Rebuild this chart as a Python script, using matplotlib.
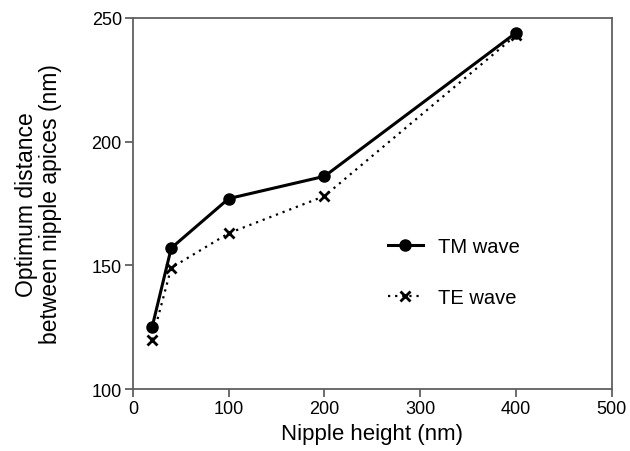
import matplotlib
matplotlib.use('Agg')
import matplotlib.pyplot as plt

plt.rcParams['font.family'] = ['Liberation Sans', 'DejaVu Sans']

# nipple height (nm)
height = [20, 40, 100, 200, 400]
# optimum distance between nipple apices (nm)
tm_wave = [125, 157, 177, 186, 244]
te_wave = [120, 149, 163, 178, 243]

fig = plt.figure(figsize=(6.3, 4.52), dpi=100)
ax = fig.add_axes([0.211, 0.137, 0.76, 0.821])

ax.plot(height, tm_wave, color='black', lw=2.2, marker='o', ms=8, label='TM wave')
ax.plot(height, te_wave, color='black', lw=1.6, ls=(0, (1, 2.2)), marker='x', ms=7,
        mew=2, label='TE wave')

ax.set_xlim(0, 500)
ax.set_ylim(100, 250)
ax.set_xticks([0, 100, 200, 300, 400, 500])
ax.set_yticks([100, 150, 200, 250])

for s in ax.spines.values():
    s.set_color('#606060')
    s.set_linewidth(1.3)
ax.tick_params(direction='out', length=6, width=1.3, color='#606060',
               labelsize=13, pad=2)

ax.set_xlabel('Nipple height (nm)', fontsize=16, labelpad=4)
ax.set_ylabel('Optimum distance\nbetween nipple apices (nm)', fontsize=16.5,
              labelpad=21, linespacing=1.1)

ax.legend(loc='center left', bbox_to_anchor=(0.532, 0.315), frameon=False,
          fontsize=14.5, borderaxespad=0, borderpad=0, handlelength=1.75,
          handletextpad=0.75, labelspacing=1.6)

fig.savefig('out.png', dpi=100)
